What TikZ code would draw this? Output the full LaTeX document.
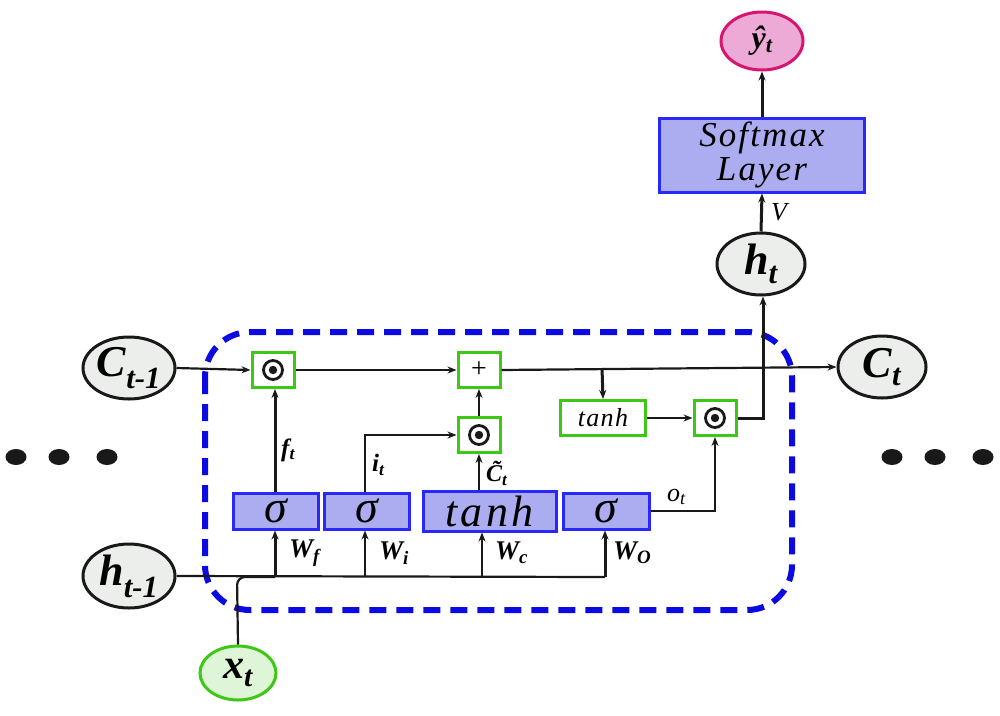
\documentclass[tikz,border=0pt]{standalone}
\usepackage{fontspec}
\setmainfont{Liberation Serif}
\usetikzlibrary{shapes.geometric,arrows.meta}
\definecolor{gateblue}{RGB}{40,40,250}
\definecolor{gatefill}{RGB}{172,172,240}
\definecolor{opgreen}{RGB}{60,200,20}
\definecolor{dashblue}{RGB}{10,10,225}
\definecolor{statefill}{RGB}{236,238,236}
\definecolor{xfill}{RGB}{222,245,215}
\definecolor{yfill}{RGB}{238,170,215}
\definecolor{yborder}{RGB}{215,20,110}
\definecolor{ink}{RGB}{25,25,25}
\tikzset{
  statenode/.style={ellipse, draw=ink, line width=3pt, fill=statefill, inner sep=0pt},
  gatebox/.style={rectangle, draw=gateblue, line width=3pt, fill=gatefill, inner sep=0pt,
     font=\fontsize{46}{48}\selectfont\itshape},
  opbox/.style={rectangle, draw=opgreen, line width=3pt, fill=white, inner sep=0pt,
     minimum width=42pt, minimum height=35pt},
  conn/.style={draw=ink, line width=2.2pt, -{Stealth[length=9pt,width=7pt]}},
  thickconn/.style={draw=ink, line width=3pt, -{Stealth[length=9pt,width=7pt]}},
  plainline/.style={draw=ink, line width=2.2pt},
  lbl/.style={inner sep=0pt, font=\fontsize{25}{27}\selectfont\bfseries\itshape},
  dashbox/.style={draw=dashblue, line width=6pt, dash pattern=on 17pt off 10pt, rounded corners=45pt},
  dotnode/.style={ellipse, fill=ink, minimum width=21pt, minimum height=16pt, inner sep=0pt}
}
\begin{document}
\begin{tikzpicture}[x=1pt,y=-1pt]
\useasboundingbox (0,0) rectangle (1000,715);

% dashed cell boundary
\draw[dashbox] (205,332) rectangle (792,610);

% states
\node[statenode, minimum width=92pt, minimum height=62pt] (Cm1) at (129,368)
  {\fontsize{44}{46}\selectfont\bfseries\itshape C\textsubscript{t-1}};
\node[statenode, minimum width=92pt, minimum height=64pt] (hm1) at (129,576)
  {\fontsize{44}{46}\selectfont\bfseries\itshape h\textsubscript{t-1}};
\node[statenode, minimum width=88pt, minimum height=62pt] (Ct) at (882,367)
  {\fontsize{44}{46}\selectfont\bfseries\itshape C\textsubscript{t}};
\node[statenode, minimum width=88pt, minimum height=62pt] (ht) at (761,264)
  {\fontsize{44}{46}\selectfont\bfseries\itshape h\textsubscript{t}};
\node[statenode, draw=opgreen, fill=xfill, minimum width=76pt, minimum height=54pt] (xt) at (238,673)
  {\fontsize{42}{44}\selectfont\bfseries\itshape x\textsubscript{t}};
\node[statenode, draw=yborder, fill=yfill, minimum width=82pt, minimum height=58pt] (yhat) at (762,41)
  {\fontsize{32}{34}\selectfont\bfseries\itshape \^{y}\textsubscript{t}};

% softmax layer
\node[gatebox, minimum width=205pt, minimum height=74pt, align=center,
      font=\fontsize{35}{34}\selectfont\itshape\addfontfeature{LetterSpace=6}] (soft) at (762,155)
  {Softmax\\Layer};

% gates
\node[gatebox, minimum width=85pt, minimum height=36pt] (s1) at (275.5,511) {σ};
\node[gatebox, minimum width=85pt, minimum height=36pt] (s2) at (366.5,511) {σ};
\node[gatebox, minimum width=133pt, minimum height=40pt,
      font=\fontsize{44}{46}\selectfont\itshape\addfontfeature{LetterSpace=8}] (tg) at (489.5,511) {tanh};
\node[gatebox, minimum width=86pt, minimum height=36pt] (s4) at (606,511) {σ};

% pointwise operations
\node[opbox] (f1) at (273,370) {};
\node[opbox] (plus) at (479,370) {\fontsize{28}{30}\selectfont +};
\node[opbox] (i1) at (479,435) {};
\node[opbox] (o1) at (715,418) {};
\node[opbox, minimum width=85pt] (tc) at (603,418)
  {\fontsize{26}{28}\selectfont\itshape\addfontfeature{LetterSpace=5}tanh};
\foreach \n in {f1,i1,o1}{
  \draw[ink, line width=2.8pt] (\n) circle[radius=9.5pt];
  \fill[ink] (\n) circle[radius=4.2pt];
}

% dots
\node[dotnode] (dl1) at (16,457) {};
\node[dotnode] (dl2) at (59,457) {};
\node[dotnode] (dl3) at (107,457) {};
\node[dotnode] (dr1) at (892,457) {};
\node[dotnode] (dr2) at (935,457) {};
\node[dotnode] (dr3) at (983,457) {};

% helper coordinates
\coordinate (hend) at (605,577);
\coordinate (xj) at (237,577);
\coordinate (w1) at (275,577);
\coordinate (w2) at (365,577);
\coordinate (w3) at (482,577);
\coordinate (w4) at (605,577);
\coordinate (cb) at (602,368);
\coordinate (hv) at (763,418);

% cell state line
\draw[conn] (Cm1.east) -- (f1.west);
\draw[conn] (f1.east) -- (plus.west);
\draw[conn] (plus.east) -- (Ct.west);
\draw[thickconn] (cb) -- (tc.north);

% hidden/input lines
\draw[plainline] (hm1.east) -- (hend);
\draw[plainline, rounded corners=8pt] (xt.north) -- (xj) -- (w1);
\draw[thickconn] (w1) -- (w1 |- s1.south);
\draw[conn] (w2) -- (w2 |- s2.south);
\draw[conn] (w3) -- (w3 |- tg.south);
\draw[thickconn] (w4) -- (w4 |- s4.south);

% gate outputs
\draw[thickconn] (s1.north -| w1) -- (w1 |- f1.south);
\draw[conn] (s2.north -| w2) |- (i1.west);
\draw[conn] (tg.north -| i1) -- (i1.south);
\draw[conn] (i1.north) -- (plus.south);
\draw[conn] (s4.east) -| (o1.south);
\draw[conn] (tc.east) -- (o1.west);
\draw[thickconn] (o1.east) -- (hv) -- (hv |- ht.south);
\draw[thickconn] (ht.north) -- (soft.south);
\draw[thickconn] (soft.north) -- (yhat.south);

% labels
\node[lbl, anchor=west] (lf) at (281,450) {f\textsubscript{t}};
\node[lbl, anchor=west] (li) at (372,465) {i\textsubscript{t}};
\node[lbl, anchor=south west, font=\fontsize{24}{26}\selectfont\bfseries\itshape] (lc) at (486,486) {\~{C}\textsubscript{t}};
\node[lbl, anchor=west, font=\fontsize{27}{29}\selectfont\bfseries\itshape] (lwf) at (289,553) {W\textsubscript{f}};
\node[lbl, anchor=west, font=\fontsize{27}{29}\selectfont\bfseries\itshape] (lwi) at (379,553) {W\textsubscript{i}};
\node[lbl, anchor=west, font=\fontsize{27}{29}\selectfont\bfseries\itshape] (lwc) at (495,553) {W\textsubscript{c}};
\node[lbl, anchor=west, font=\fontsize{27}{29}\selectfont\bfseries\itshape] (lwo) at (613,553) {W\textsubscript{O}};
\node[lbl, anchor=west, font=\fontsize{26}{28}\selectfont\itshape] (lo) at (667,497) {o\textsubscript{t}};
\node[lbl, anchor=west, font=\fontsize{26}{28}\selectfont\itshape] (lv) at (771,212) {V};
\end{tikzpicture}
\end{document}
